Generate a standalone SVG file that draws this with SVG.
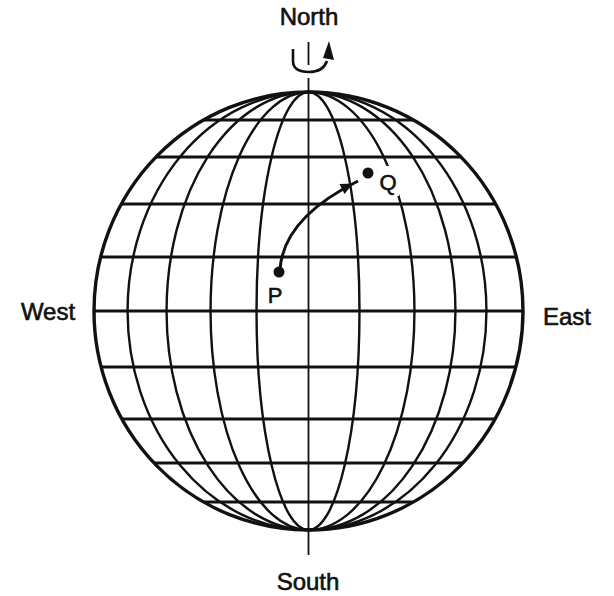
<svg xmlns="http://www.w3.org/2000/svg" width="614" height="596" viewBox="0 0 614 596">
<style>
.lbl{font-family:"Liberation Sans",Arial,sans-serif;font-size:24px;fill:#111;stroke:#111;stroke-width:0.6;text-anchor:middle}
.pt{font-family:"Liberation Sans",Arial,sans-serif;font-size:22px;fill:#111;stroke:#111;stroke-width:0.6;text-anchor:middle}
.mer{fill:none;stroke:#111;stroke-width:2.4}
.lat{stroke:#111;stroke-width:2.8}
</style>
<rect width="614" height="596" fill="#fff"/>
<g id="globe">
<g id="latitudes">
<line class="lat" x1="203.6" y1="120" x2="413.4" y2="120"/>
<line class="lat" x1="156" y1="157" x2="461" y2="157"/>
<line class="lat" x1="121.3" y1="204" x2="495.7" y2="204"/>
<line class="lat" x1="100.6" y1="257" x2="516.4" y2="257"/>
<line class="lat" x1="94" y1="311" x2="523" y2="311"/>
<line class="lat" x1="101.1" y1="367" x2="515.9" y2="367"/>
<line class="lat" x1="121.9" y1="419" x2="495.1" y2="419"/>
<line class="lat" x1="154.1" y1="463" x2="462.9" y2="463"/>
<line class="lat" x1="203.6" y1="502" x2="413.4" y2="502"/>
</g>
<g id="meridians">
<path class="mer" d="M308.5,92 A52,219 0 0 0 308.5,530"/>
<path class="mer" d="M308.5,92 A98,219 0 0 0 308.5,530"/>
<path class="mer" d="M308.5,92 A142,219 0 0 0 308.5,530"/>
<path class="mer" d="M308.5,92 A181,219 0 0 0 308.5,530"/>
<path class="mer" d="M308.5,92 A51,219 0 0 1 308.5,530"/>
<path class="mer" d="M308.5,92 A106,219 0 0 1 308.5,530"/>
<path class="mer" d="M308.5,92 A147,219 0 0 1 308.5,530"/>
<path class="mer" d="M308.5,92 A178,219 0 0 1 308.5,530"/>
</g>
<ellipse cx="308.5" cy="311" rx="214.5" ry="219" fill="none" stroke="#111" stroke-width="3.4"/>
</g>
<g id="axis">
<line x1="308.5" y1="42" x2="308.5" y2="65" stroke="#111" stroke-width="1.8"/>
<line x1="308.5" y1="78" x2="308.5" y2="555" stroke="#111" stroke-width="1.8"/>
<path d="M293,49 L293,61 Q293,72 309,72 Q323,72 327,61" fill="none" stroke="#111" stroke-width="2.6"/>
<polygon points="329,41 334,60 323,58" fill="#111"/>
</g>
<g id="connectors">
<path d="M280,270 C282,235 310,205 358,181" fill="none" stroke="#111" stroke-width="3"/>
<polygon points="353,183.5 344.5,194 339.5,184" fill="#111"/>
</g>
<g id="P">
<circle cx="279" cy="272" r="5.5" fill="#111"/>
<text class="pt" x="275" y="303">P</text>
</g>
<g id="Q">
<rect x="375" y="166" width="24" height="30" fill="#fff"/>
<circle cx="368" cy="173" r="5.5" fill="#111"/>
<text class="pt" x="388" y="190">Q</text>
</g>
<g id="labels">
<text id="north" class="lbl" x="309" y="25">North</text>
<text id="south" class="lbl" x="308" y="590">South</text>
<text id="west" class="lbl" x="48" y="320">West</text>
<text id="east" class="lbl" x="567" y="325">East</text>
</g>
</svg>
